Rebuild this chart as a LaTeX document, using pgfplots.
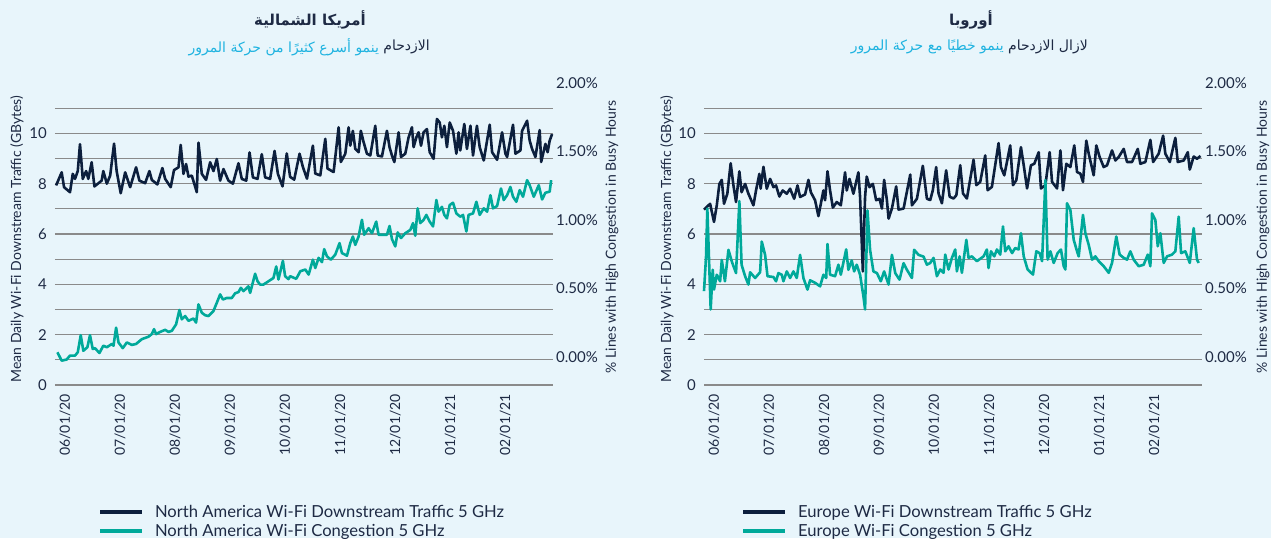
\documentclass[border=0pt]{standalone}
\usepackage{pgfplots}
\pgfplotsset{compat=1.18}
\usepackage{fontspec}
\setmainfont{Lato}
\newfontfamily\arabicfont[Script=Arabic]{DejaVu Sans}
\TeXXeTstate=1
\definecolor{bg}{HTML}{E8F5FB}
\definecolor{navy}{HTML}{0C1F3D}
\definecolor{myteal}{HTML}{00A99A}
\definecolor{gridc}{HTML}{8A8A8A}
\definecolor{txt}{HTML}{1E2A44}
\definecolor{cyanT}{HTML}{1FB3E0}
\pgfkeys{/pgf/number format/assume math mode=true}
\pgfplotsset{
  mybase/.style={scale only axis, width=498pt, height=302pt, xmin=1.6, xmax=270.6, clip=false},
  leftax/.style={mybase, ymin=0, ymax=12,
    ytick={0,2,4,6,8,10}, minor ytick={1,3,5,7,9,11},
    ymajorgrids=true, yminorgrids=true,
    grid style={draw=gridc, line width=1.3pt},
    minor grid style={draw=gridc, line width=1.3pt},
    axis line style={draw=none}, major tick length=0pt, minor tick length=0pt,
    xtick={7,36.7,66.5,96.2,125.9,155.7,185.4,215.1,244.8},
    xticklabels={06/01/20,07/01/20,08/01/20,09/01/20,10/01/20,11/01/20,12/01/20,01/01/21,02/01/21},
    xticklabel style={rotate=90, anchor=east, inner xsep=9pt, font=\fontsize{14}{16}\selectfont, text=txt},
    yticklabel style={font=\fontsize{15}{17}\selectfont, text=txt, inner xsep=8pt},
  },
  rightax/.style={mybase, ymin=-0.207, ymax=2, axis y line*=right, hide x axis,
    axis line style={draw=none}, major tick length=0pt,
    ytick={0,0.5,1,1.5,2},
    yticklabel={\pgfmathprintnumber[fixed,fixed zerofill,precision=2]{\tick}\%},
    yticklabel style={font=\fontsize{15}{17}\selectfont, text=txt, inner xsep=3pt, anchor=west},
    legend image code/.code={\draw[#1, line width=4pt] (0pt,0pt) -- (42pt,0pt);},
    legend cell align=left,
  },
}
\begin{document}
\begin{tikzpicture}
\useasboundingbox (0pt,0pt) rectangle (1271pt,538pt);
\clip (0pt,0pt) rectangle (1271pt,538pt);
\fill[bg] (0pt,0pt) rectangle (1271pt,538pt);

% ===== North America =====
\begin{axis}[leftax, at={(55pt,153pt)}, anchor=south west,
  ylabel={Mean Daily Wi-Fi Downstream Traffic (GBytes)},
  every axis y label/.style={at={(axis description cs:-0.0763,0.483)}, anchor=center, rotate=90, font=\fontsize{14}{16}\selectfont, text=txt}]
\addplot[navy, line width=2.6pt, line join=round] coordinates {
(2.2,7.93) (5.2,8.45) (6.5,7.86) (9.7,7.66) (11.2,8.39) (12.4,8.19) (13.9,8.50) (15.1,9.57) (16.6,8.19) (18.4,8.50) (19.6,8.19) (21.4,8.85) (22.9,7.89) (26.8,8.12) (27.7,8.50) (29.6,8.00) (31.4,8.32) (33.5,9.59) (34.9,8.50) (37.1,7.62) (39.5,8.45) (42.2,7.86) (45.4,8.65) (47.2,8.12) (50.3,8.02) (52.6,8.50) (53.9,8.15) (56.9,7.97) (59.6,8.62) (61.1,8.19) (64.1,7.86) (65.9,8.54) (68.3,8.65) (69.5,9.54) (71.0,8.39) (72.4,8.78) (73.7,8.28) (75.5,8.32) (78.2,7.66) (79.1,9.63) (80.9,8.39) (83.2,8.15) (85.4,8.85) (87.2,8.50) (89.0,8.98) (90.8,8.12) (92.6,8.58) (95.3,8.12) (97.7,8.00) (100.7,8.81) (102.5,8.19) (104.9,8.12) (106.7,9.24) (108.5,8.25) (111.0,8.19) (113.3,9.17) (115.1,8.25) (117.8,8.19) (120.2,9.30) (122.0,8.39) (124.5,7.89) (126.8,9.20) (128.6,8.27) (130.8,8.16) (133.7,9.19) (135.5,8.66) (137.7,8.20) (140.9,9.51) (142.2,8.40) (144.9,8.33) (147.6,9.78) (148.8,8.60) (152.1,8.46) (154.8,10.24) (156.0,8.86) (158.4,9.19) (160.2,10.24) (161.1,9.51) (162.5,10.10) (163.8,9.38) (165.6,9.25) (166.8,10.10) (168.3,9.65) (170.1,9.19) (171.9,9.12) (174.6,10.30) (175.9,9.12) (178.2,9.08) (180.9,10.10) (182.3,9.45) (183.6,9.12) (184.9,8.86) (187.2,10.04) (188.5,9.06) (190.8,9.19) (192.6,9.84) (194.4,10.24) (195.3,9.45) (196.8,9.84) (198.0,10.04) (199.3,9.51) (200.7,10.04) (202.5,10.17) (204.0,9.25) (206.1,8.99) (207.9,10.57) (209.4,10.43) (210.6,9.84) (211.9,10.30) (213.3,9.45) (214.8,10.43) (216.6,10.10) (218.4,9.19) (219.6,10.04) (220.5,9.32) (222.7,10.37) (224.1,9.38) (226.0,10.30) (227.4,9.12) (229.5,10.30) (231.0,9.45) (233.2,8.92) (236.4,10.34) (237.7,9.25) (240.4,8.95) (243.1,10.04) (244.9,9.19) (245.8,9.06) (249.0,10.34) (250.3,9.19) (253.0,9.32) (253.9,10.10) (256.6,10.50) (258.0,9.71) (259.3,9.38) (261.1,9.06) (263.4,10.13) (264.2,8.86) (266.5,9.58) (267.7,9.25) (268.8,9.71) (270.1,9.97)
};
\end{axis}
\begin{axis}[rightax, at={(55pt,153pt)}, anchor=south west,
  ylabel={\% Lines with High Congestion in Busy Hours},
  every axis y label/.style={at={(axis description cs:1.1185,0.49)}, anchor=center, rotate=90, font=\fontsize{14}{16}\selectfont, text=txt},
  legend style={at={(axis description cs:0.080,-0.384)}, anchor=north west, draw=none, fill=none, font=\fontsize{16.6}{18}\selectfont, text=txt, row sep=1pt, /tikz/every odd column/.append style={column sep=9pt}}]
\addlegendimage{navy}
\addlegendentry{North America Wi-Fi Downstream Traffic 5 GHz}
\addplot[myteal, line width=2.6pt, line join=round] coordinates {
(2.9,0.032) (5.2,-0.029) (7.9,-0.021) (9.7,0.008) (12.4,0.008) (13.9,0.032) (15.5,0.157) (16.9,0.043) (19.1,0.069) (20.5,0.157) (22.0,0.056) (23.2,0.062) (25.6,0.027) (27.7,0.080) (29.6,0.069) (32.3,0.093) (33.2,0.080) (34.6,0.212) (35.9,0.104) (38.2,0.062) (40.4,0.104) (43.1,0.086) (45.4,0.093) (48.5,0.128) (52.1,0.146) (53.9,0.165) (55.1,0.201) (56.2,0.165) (58.4,0.181) (61.1,0.196) (62.9,0.181) (64.7,0.189) (67.0,0.236) (68.8,0.341) (70.1,0.273) (71.9,0.297) (73.7,0.262) (76.4,0.279) (77.8,0.249) (79.1,0.382) (80.9,0.321) (82.7,0.303) (84.5,0.297) (87.2,0.334) (89.0,0.394) (90.8,0.455) (92.3,0.418) (94.4,0.429) (97.1,0.429) (98.9,0.463) (100.7,0.472) (102.0,0.503) (103.4,0.479) (106.1,0.514) (107.0,0.466) (109.7,0.606) (111.0,0.551) (112.4,0.527) (114.2,0.527) (116.9,0.551) (119.6,0.575) (121.1,0.659) (122.3,0.564) (124.7,0.700) (125.9,0.588) (127.7,0.567) (128.6,0.588) (131.9,0.569) (134.1,0.624) (136.8,0.637) (138.6,0.600) (140.9,0.709) (142.2,0.648) (144.0,0.722) (145.8,0.691) (147.0,0.786) (148.5,0.733) (150.6,0.709) (153.0,0.746) (155.3,0.830) (156.6,0.757) (159.3,0.738) (161.1,0.830) (162.5,0.878) (163.8,0.817) (165.6,0.878) (167.4,1.000) (168.6,0.891) (171.0,0.939) (172.8,0.902) (175.1,0.987) (176.4,0.891) (180.9,0.891) (182.3,0.955) (183.6,0.860) (185.4,0.806) (186.7,0.908) (188.5,0.867) (190.8,0.902) (193.5,0.926) (195.0,0.976) (196.2,0.884) (197.5,1.084) (198.9,0.976) (200.7,1.000) (202.2,1.036) (204.0,0.987) (205.8,0.952) (207.6,1.145) (208.8,1.060) (210.6,1.095) (211.9,1.036) (213.3,1.011) (214.8,1.108) (216.6,1.125) (218.4,1.047) (220.5,1.023) (222.0,1.036) (223.8,0.915) (225.0,1.036) (227.4,1.047) (229.2,1.132) (231.0,1.036) (233.2,1.084) (235.0,1.060) (236.8,1.180) (238.2,1.084) (240.4,1.101) (242.5,1.229) (244.0,1.145) (245.8,1.180) (247.6,1.240) (249.0,1.169) (250.8,1.132) (252.6,1.217) (254.4,1.169) (256.6,1.290) (258.0,1.253) (260.2,1.169) (262.9,1.253) (264.7,1.149) (266.5,1.198) (268.8,1.206) (269.6,1.290)
};
\addlegendentry{North America Wi-Fi Congestion 5 GHz}
\end{axis}

% ===== Europe =====
\begin{axis}[leftax, at={(704pt,153pt)}, anchor=south west,
  ylabel={Mean Daily Wi-Fi Downstream Traffic (GBytes)},
  every axis y label/.style={at={(axis description cs:-0.0744,0.483)}, anchor=center, rotate=90, font=\fontsize{14}{16}\selectfont, text=txt}]
\addplot[navy, line width=2.6pt, line join=round] coordinates {
(1.6,6.97) (4.9,7.20) (7.0,6.48) (8.5,7.14) (9.9,7.99) (11.2,8.15) (12.4,7.20) (14.2,7.60) (16.0,8.81) (17.5,7.93) (18.9,7.27) (20.7,8.49) (21.9,7.66) (23.8,7.99) (25.6,7.60) (28.3,7.14) (29.7,7.73) (31.5,8.39) (32.2,7.80) (33.7,8.67) (35.5,7.80) (37.3,8.19) (39.1,7.86) (40.5,7.93) (42.3,7.49) (44.1,7.73) (46.3,7.60) (48.1,7.80) (50.3,7.40) (52.1,7.93) (53.5,7.47) (56.2,7.57) (58.0,8.15) (59.3,7.66) (61.6,7.34) (63.4,6.71) (66.1,7.73) (67.0,7.34) (68.3,8.49) (69.7,7.73) (71.2,7.05) (73.3,7.27) (75.5,7.14) (77.8,8.45) (78.7,7.73) (80.2,8.19) (82.3,7.60) (85.0,8.45) (85.9,7.47) (87.4,4.51) (88.6,7.47) (89.5,8.28) (91.0,7.86) (92.8,7.99) (94.6,7.34) (96.4,7.40) (97.7,7.01) (98.9,8.15) (100.4,7.34) (101.3,6.61) (103.1,7.01) (105.4,7.89) (106.7,6.97) (109.4,7.01) (113.0,8.36) (113.9,7.14) (116.6,7.40) (119.8,8.71) (122.0,7.40) (123.8,7.35) (125.2,7.74) (127.0,8.66) (128.3,7.61) (130.1,7.22) (132.4,8.53) (134.3,7.48) (136.4,7.41) (137.9,7.54) (140.0,8.73) (141.5,7.61) (143.6,7.41) (147.2,8.95) (148.7,7.94) (150.8,8.07) (153.5,9.12) (154.8,7.74) (157.1,7.87) (160.7,9.61) (162.0,8.66) (163.8,8.33) (167.0,9.52) (168.5,7.94) (170.3,8.14) (172.8,9.45) (174.3,8.73) (176.1,7.81) (178.2,8.73) (180.0,8.79) (182.4,9.25) (183.6,7.81) (186.0,7.94) (188.3,9.25) (189.6,8.07) (192.3,7.81) (194.1,9.32) (195.5,7.74) (197.3,8.79) (199.5,8.66) (201.6,9.52) (203.1,8.46) (204.9,8.40) (206.3,8.07) (208.1,9.71) (209.4,9.19) (212.1,8.33) (213.5,9.52) (215.3,9.06) (217.5,8.66) (219.3,8.73) (222.0,9.32) (223.8,8.92) (225.6,9.06) (228.3,9.38) (230.1,8.86) (232.8,8.86) (235.9,9.38) (237.3,8.79) (240.0,8.86) (242.7,9.74) (244.2,8.86) (247.2,9.19) (249.6,9.91) (250.8,9.19) (253.2,8.86) (256.2,9.82) (257.5,8.86) (260.7,8.92) (262.9,9.25) (264.0,8.56) (266.1,9.08) (267.9,8.99) (269.8,9.10)
};
\end{axis}
\begin{axis}[rightax, at={(704pt,153pt)}, anchor=south west,
  ylabel={\% Lines with High Congestion in Busy Hours},
  every axis y label/.style={at={(axis description cs:1.1227,0.49)}, anchor=center, rotate=90, font=\fontsize{14}{16}\selectfont, text=txt},
  legend style={at={(axis description cs:0.068,-0.384)}, anchor=north west, draw=none, fill=none, font=\fontsize{16.6}{18}\selectfont, text=txt, row sep=1pt, /tikz/every odd column/.append style={column sep=9pt}}]
\addlegendimage{navy}
\addlegendentry{Europe Wi-Fi Downstream Traffic 5 GHz}
\addplot[myteal, line width=2.6pt, line join=round] coordinates {
(1.6,0.479) (2.7,0.731) (3.4,1.082) (4.5,0.635) (5.2,0.345) (6.3,0.635) (7.0,0.490) (8.5,0.599) (10.3,0.551) (11.2,0.707) (12.9,0.551) (14.8,0.781) (16.6,0.696) (18.9,0.611) (20.7,1.137) (21.9,0.672) (23.8,0.588) (25.6,0.527) (26.5,0.617) (29.2,0.575) (31.9,0.617) (32.8,0.841) (34.6,0.744) (35.9,0.588) (39.1,0.582) (40.5,0.551) (41.8,0.611) (43.6,0.599) (44.5,0.551) (46.3,0.623) (48.1,0.575) (49.9,0.623) (51.7,0.575) (53.5,0.744) (55.3,0.575) (57.5,0.490) (58.9,0.558) (61.6,0.540) (64.3,0.514) (66.1,0.599) (67.6,0.575) (68.3,0.823) (69.7,0.599) (72.4,0.588) (74.2,0.672) (75.5,0.599) (78.4,0.784) (79.6,0.635) (81.4,0.703) (82.7,0.623) (84.1,0.672) (85.9,0.599) (87.7,0.442) (88.6,0.345) (89.9,1.069) (91.3,0.781) (93.1,0.623) (95.0,0.611) (97.1,0.551) (98.9,0.623) (101.3,0.527) (103.1,0.744) (104.9,0.611) (107.2,0.563) (109.4,0.683) (111.2,0.635) (113.9,0.575) (115.1,0.781) (117.5,0.744) (120.2,0.731) (122.0,0.672) (123.8,0.685) (125.6,0.722) (127.4,0.588) (129.2,0.637) (131.0,0.613) (131.9,0.746) (133.7,0.637) (135.5,0.722) (137.3,0.783) (138.2,0.624) (139.7,0.733) (140.9,0.613) (143.3,0.854) (144.5,0.722) (146.3,0.733) (149.0,0.698) (152.6,0.733) (154.4,0.783) (155.3,0.648) (156.6,0.770) (158.4,0.733) (159.8,0.783) (161.6,0.746) (163.1,0.952) (164.3,0.770) (166.1,0.807) (168.0,0.757) (169.7,0.794) (171.5,0.783) (172.8,0.902) (174.3,0.733) (176.4,0.637) (179.3,0.600) (181.1,0.770) (182.9,0.757) (184.2,0.698) (186.0,1.290) (187.2,0.709) (188.7,0.770) (190.5,0.685) (192.6,0.757) (194.4,0.783) (195.9,0.661) (196.8,0.637) (197.7,1.121) (199.5,1.071) (201.3,0.854) (203.1,0.770) (204.0,0.733) (206.3,1.036) (207.6,0.902) (209.4,0.817) (211.2,0.709) (213.0,0.733) (214.8,0.698) (217.5,0.661) (220.2,0.613) (222.0,0.685) (224.3,0.878) (226.1,0.746) (228.3,0.722) (230.1,0.709) (231.9,0.770) (233.7,0.709) (236.4,0.661) (239.1,0.672) (241.3,0.746) (242.7,0.661) (243.6,1.047) (245.4,0.999) (246.7,0.807) (248.1,0.902) (249.9,0.685) (251.7,0.733) (254.4,0.746) (256.2,0.770) (258.0,1.023) (259.3,0.757) (261.6,0.770) (264.0,0.685) (266.1,0.939) (267.9,0.709) (268.8,0.685)
};
\addlegendentry{Europe Wi-Fi Congestion 5 GHz}
\end{axis}

% titles (after the axes)
\node[font=\arabicfont\bfseries\fontsize{15}{18}\selectfont, text=txt] at (310pt,518pt) {\beginR أمريكا الشمالية\endR};
\node[font=\arabicfont\fontsize{14}{17}\selectfont, text=txt, anchor=east, inner xsep=0pt] (a1) at (430pt,491pt) {\beginR الازدحام\endR};
\node[font=\arabicfont\fontsize{14}{17}\selectfont, text=cyanT, anchor=east, inner xsep=0pt] at ([xshift=-4pt]a1.west) {\beginR ينمو أسرع كثيرًا من حركة المرور\endR};
\node[font=\arabicfont\bfseries\fontsize{15}{18}\selectfont, text=txt] at (971pt,518pt) {\beginR أوروبا\endR};
\node[font=\arabicfont\fontsize{14}{17}\selectfont, text=txt, anchor=east, inner xsep=0pt] (b1) at (1088pt,491pt) {\beginR لازال الازدحام\endR};
\node[font=\arabicfont\fontsize{14}{17}\selectfont, text=cyanT, anchor=east, inner xsep=0pt] at ([xshift=-4pt]b1.west) {\beginR ينمو خطيًا مع حركة المرور\endR};
\end{tikzpicture}
\end{document}
